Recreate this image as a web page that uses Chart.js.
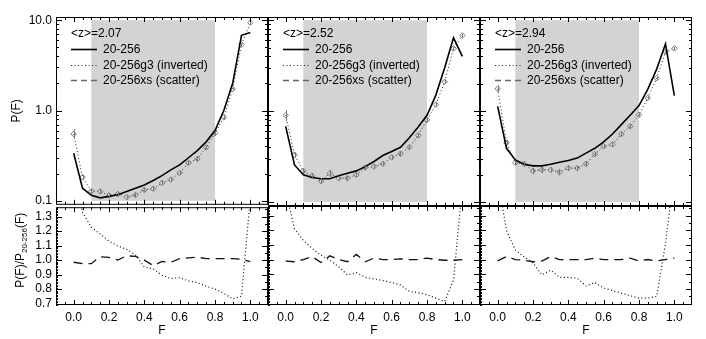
<!DOCTYPE html>
<html>
<head>
<meta charset="utf-8">
<script src="https://cdn.jsdelivr.net/npm/chart.js@4.4.1/dist/chart.umd.min.js"></script>
<style>
  body { margin: 0; background: #fff; }
  #wrap { position: relative; width: 706px; height: 339px; overflow: hidden; background: #fff; }
  canvas { position: absolute; }
</style>
</head>
<body>
<div id="wrap"></div>
<script>
// flux bins
const F = [0.00, 0.05, 0.10, 0.15, 0.20, 0.25, 0.30, 0.35, 0.40, 0.45, 0.50,
           0.55, 0.60, 0.65, 0.70, 0.75, 0.80, 0.85, 0.90, 0.95, 1.00];

const zLabels = ['2.07', '2.52', '2.94'];
const legendLabels = ['20-256', '20-256g3 (inverted)', '20-256xs (scatter)'];

// P(F), <z>=2.07
const base207 = [0.336, 0.138, 0.115, 0.108, 0.112, 0.117, 0.127, 0.138, 0.150, 0.168, 0.190,
                 0.220, 0.250, 0.300, 0.360, 0.450, 0.600, 1.00, 2.00, 6.80, 7.30];
const g3_207 = [0.55, 0.183, 0.128, 0.127, 0.115, 0.119, 0.110, 0.116, 0.132, 0.136, 0.158,
                0.172, 0.204, 0.263, 0.291, 0.390, 0.560, 0.84, 1.73, 5.40, 9.40];
const g3Err207 = [0.12, 0.07, 0.06, 0.06, 0.06, 0.05, 0.06, 0.05, 0.05, 0.05, 0.05,
                  0.05, 0.05, 0.05, 0.05, 0.05, 0.04, 0.04, 0.04, 0.04, 0.05];
const ratioG3_207 = [1.64, 1.33, 1.226, 1.18, 1.131, 1.097, 1.075, 1.036, 0.951, 0.94, 0.895,
                     0.872, 0.879, 0.856, 0.845, 0.82, 0.80, 0.771, 0.732, 0.75, 1.43];
const ratioXs_207 = [0.985, 0.975, 0.975, 1.023, 1.018, 1.0, 1.03, 1.025, 1.0, 0.962, 0.99,
                     0.985, 1.01, 1.015, 1.02, 1.01, 1.01, 1.01, 1.01, 1.005, 0.99];

// P(F), <z>=2.52
const base252 = [0.68, 0.256, 0.199, 0.186, 0.180, 0.180, 0.194, 0.207, 0.220, 0.245, 0.279,
                 0.325, 0.360, 0.400, 0.510, 0.670, 0.900, 1.50, 3.00, 6.40, 4.00];
const g3_252 = [0.90, 0.33, 0.22, 0.194, 0.170, 0.207, 0.183, 0.183, 0.199, 0.239, 0.246,
                0.263, 0.31, 0.34, 0.40, 0.54, 0.80, 1.18, 2.10, 4.90, 6.80];
const g3Err252 = [0.14, 0.07, 0.06, 0.06, 0.08, 0.10, 0.06, 0.06, 0.06, 0.06, 0.06,
                  0.05, 0.05, 0.05, 0.05, 0.05, 0.05, 0.04, 0.04, 0.04, 0.04];
const ratioG3_252 = [1.47, 1.21, 1.131, 1.075, 1.03, 0.996, 0.951, 0.895, 0.91, 0.879, 0.868,
                     0.856, 0.843, 0.827, 0.782, 0.775, 0.76, 0.737, 0.714, 0.86, 1.50];
const ratioXs_252 = [0.989, 0.985, 1.0, 1.02, 0.98, 1.025, 1.0, 0.985, 1.035, 0.985, 1.01,
                     1.0, 1.0, 1.005, 1.0, 1.0, 1.01, 1.0, 0.995, 0.995, 1.0];

// P(F), <z>=2.94
const base294 = [1.13, 0.39, 0.29, 0.26, 0.25, 0.25, 0.26, 0.274, 0.286, 0.304, 0.345,
                 0.39, 0.46, 0.56, 0.71, 0.90, 1.15, 1.75, 2.90, 5.50, 1.48];
const g3_294 = [1.76, 0.45, 0.27, 0.263, 0.22, 0.226, 0.226, 0.213, 0.236, 0.236, 0.263,
                0.336, 0.41, 0.43, 0.56, 0.68, 0.91, 1.40, 2.30, 4.50, 4.90];
const g3Err294 = [0.10, 0.07, 0.06, 0.06, 0.07, 0.07, 0.07, 0.07, 0.06, 0.06, 0.06,
                  0.05, 0.05, 0.05, 0.05, 0.05, 0.04, 0.04, 0.04, 0.04, 0.04];
const ratioG3_294 = [1.55, 1.199, 1.064, 1.018, 0.978, 0.895, 0.928, 0.879, 0.879, 0.872, 0.82,
                     0.843, 0.805, 0.789, 0.771, 0.753, 0.737, 0.737, 0.748, 1.109, 1.60];
const ratioXs_294 = [0.991, 1.02, 1.0, 0.995, 0.985, 0.99, 1.02, 1.0, 1.0, 1.0, 1.0,
                     1.01, 1.0, 1.0, 1.0, 1.01, 0.99, 1.0, 0.99, 1.0, 1.01];

const topTicks = [0.1, 1, 10];
const ratioTicks = [0.7, 0.8, 0.9, 1.0, 1.1, 1.2, 1.3];
const fTicks = [0.0, 0.2, 0.4, 0.6, 0.8, 1.0];
const shadeBand = [0.1, 0.8];
const shadeRange = [0.1, 10];

const panels = [
  { z: zLabels[0], base: base207, g3: g3_207, err: g3Err207, rG3: ratioG3_207, rXs: ratioXs_207 },
  { z: zLabels[1], base: base252, g3: g3_252, err: g3Err252, rG3: ratioG3_252, rXs: ratioXs_252 },
  { z: zLabels[2], base: base294, g3: g3_294, err: g3Err294, rG3: ratioG3_294, rXs: ratioXs_294 },
];

const FONT = '"Liberation Sans", Arial, Helvetica, sans-serif';
Chart.defaults.font.family = FONT;
Chart.defaults.font.size = 12;
Chart.defaults.color = '#000';

const colLeft = [56, 268, 480];
const colW = 212;
const margin = 56;
const pad = 10;           // spare room round each plot box so labels never squeeze it
const topY = 17, midY = 206, botY = 305;

const pts = (arr) => arr.map((v, i) => ({ x: F[i], y: v }));

// gray band behind the curves
const shade = {
  id: 'shade',
  beforeDatasetsDraw(chart, args, opts) {
    if (!opts.on) return;
    const { ctx } = chart;
    const x = chart.scales.x, y = chart.scales.y;
    const x0 = x.getPixelForValue(shadeBand[0]), x1 = x.getPixelForValue(shadeBand[1]);
    const y0 = y.getPixelForValue(shadeRange[1]), y1 = y.getPixelForValue(shadeRange[0]);
    ctx.save();
    ctx.fillStyle = '#d3d3d3';
    ctx.fillRect(x0, y0, x1 - x0, y1 - y0);
    ctx.restore();
  }
};

// vertical error bars on the diamonds
const errorBars = {
  id: 'errorBars',
  afterDatasetsDraw(chart) {
    const { ctx } = chart;
    const y = chart.scales.y;
    chart.data.datasets.forEach((ds, di) => {
      if (!ds.errFrac) return;
      const meta = chart.getDatasetMeta(di);
      ctx.save();
      ctx.strokeStyle = '#7a7a7a';
      ctx.lineWidth = 1;
      ctx.beginPath();
      meta.data.forEach((p, i) => {
        const v = ds.data[i].y, e = ds.errFrac[i];
        const px = Math.round(p.x) + 0.5;
        ctx.moveTo(px, y.getPixelForValue(v * (1 + e)));
        ctx.lineTo(px, y.getPixelForValue(v * (1 - e)));
      });
      ctx.stroke();
      ctx.restore();
    });
  }
};

// box frame with inward ticks on all four sides
const frameTicks = {
  id: 'frameTicks',
  afterDatasetsDraw(chart, args, opts) {
    if (!opts.kind) return;
    const { ctx, chartArea: a } = chart;
    const x = chart.scales.x, y = chart.scales.y;
    const L = a.left, R = a.right, T = a.top, B = a.bottom;
    ctx.save();
    ctx.strokeStyle = '#000';
    ctx.lineWidth = 1;
    ctx.strokeRect(L + 0.5, T + 0.5, R - L - 1, B - T - 1);
    ctx.beginPath();
    for (let k = -2; k <= 22; k++) {
      const px = Math.round(x.getPixelForValue(k * 0.05)) + 0.5;
      if (px < L + 1 || px > R - 1) continue;
      const len = (k >= 0 && k % 4 === 0) ? 5 : 3;
      ctx.moveTo(px, B); ctx.lineTo(px, B - len);
      ctx.moveTo(px, T); ctx.lineTo(px, T + len);
    }
    if (opts.kind === 'top') {
      for (let d = -2; d <= 1; d++) {
        for (let m = 1; m <= 9; m++) {
          const v = m * Math.pow(10, d);
          if (v < y.min || v > y.max) continue;
          const py = Math.round(y.getPixelForValue(v)) + 0.5;
          const len = m === 1 ? 6 : 3;
          ctx.moveTo(L, py); ctx.lineTo(L + len, py);
          ctx.moveTo(R, py); ctx.lineTo(R - len, py);
        }
      }
    } else {
      for (let k = 69; k <= 136; k++) {
        const py = Math.round(y.getPixelForValue(k / 100)) + 0.5;
        const major = k % 10 === 0;
        ctx.moveTo(L, py); ctx.lineTo(L + (major ? 6 : 2), py);
        if (k % 5 === 0) { ctx.moveTo(R, py); ctx.lineTo(R - (major ? 6 : 3), py); }
      }
    }
    ctx.stroke();
    ctx.restore();
  }
};

// legend block in the upper left of each top panel
const panelLegend = {
  id: 'panelLegend',
  afterDraw(chart, args, opts) {
    if (!opts.z) return;
    const { ctx, chartArea: a } = chart;
    const x0 = a.left + 15, y0 = a.top + 17;
    const rows = [
      { color: '#000', w: 1.6, dash: [] },
      { color: '#222', w: 1, dash: [1, 2.5] },
      { color: '#666', w: 1.6, dash: [6, 4] },
    ];
    ctx.save();
    ctx.font = '12px ' + FONT;
    ctx.fillStyle = '#000';
    ctx.textBaseline = 'middle';
    ctx.fillText('<z>=' + opts.z, x0, y0);
    rows.forEach((r, i) => {
      const yy = Math.round(y0 + 15.3 * (i + 1)) + 0.5;
      ctx.strokeStyle = r.color;
      ctx.lineWidth = r.w;
      ctx.setLineDash(r.dash);
      ctx.beginPath();
      ctx.moveTo(x0, yy); ctx.lineTo(x0 + 26, yy);
      ctx.stroke();
      ctx.fillText(legendLabels[i], x0 + 32, yy);
    });
    ctx.restore();
  }
};

// rotated ratio title with subscript
const ratioTitle = {
  id: 'ratioTitle',
  afterDraw(chart, args, opts) {
    if (!opts.on) return;
    const { ctx, chartArea: a } = chart;
    ctx.save();
    ctx.translate(21, a.top + 43);
    ctx.rotate(-Math.PI / 2);
    ctx.fillStyle = '#000';
    ctx.textBaseline = 'middle';
    const big = '12px ' + FONT, small = '8px ' + FONT;
    ctx.font = big; const w1 = ctx.measureText('P(F)/P').width; const w3 = ctx.measureText('(F)').width;
    ctx.font = small; const w2 = ctx.measureText('20-256').width;
    let cx = -(w1 + w2 + w3) / 2;
    ctx.font = big; ctx.fillText('P(F)/P', cx, 0); cx += w1;
    ctx.font = small; ctx.fillText('20-256', cx, 3.5); cx += w2;
    ctx.font = big; ctx.fillText('(F)', cx, 0);
    ctx.restore();
  }
};

Chart.register(shade, errorBars, frameTicks, panelLegend, ratioTitle);

function makeCanvas(left, top, w, h) {
  const c = document.createElement('canvas');
  c.width = w; c.height = h;
  c.style.left = left + 'px'; c.style.top = top + 'px';
  c.style.width = w + 'px'; c.style.height = h + 'px';
  document.getElementById('wrap').appendChild(c);
  return c;
}

panels.forEach((p, i) => {
  const first = i === 0;

  // upper panel: P(F) on log axis
  new Chart(makeCanvas(colLeft[i] - margin, 0, margin + colW + pad, midY + pad), {
    type: 'line',
    data: {
      datasets: [
        { data: pts(p.base), borderColor: '#000', borderWidth: 1.6, pointRadius: 0, tension: 0, clip: 0 },
        { data: pts(p.g3), errFrac: p.err, borderColor: '#222', borderWidth: 1, borderDash: [1, 2.5],
          pointStyle: 'rectRot', pointRadius: 2.8, pointBorderColor: '#7a7a7a',
          pointBackgroundColor: 'rgba(0,0,0,0)', pointBorderWidth: 1, tension: 0, clip: 0 },
      ]
    },
    options: {
      responsive: false, animation: false, events: [],
      layout: { padding: { left: 0, right: pad, top: topY, bottom: pad } },
      plugins: {
        legend: { display: false }, tooltip: { enabled: false },
        shade: { on: true }, frameTicks: { kind: 'top' }, panelLegend: { z: p.z }, ratioTitle: { on: false },
      },
      scales: {
        x: { type: 'linear', min: -0.1, max: 1.1, display: false },
        y: {
          type: 'logarithmic', min: 0.0904, max: 10.85,
          grid: { display: false, drawTicks: false }, border: { display: false },
          afterBuildTicks: (s) => { s.ticks = topTicks.map(v => ({ value: v })); },
          afterFit: (s) => { s.width = margin; },
          ticks: { display: first, autoSkip: false, padding: 4, callback: (v) => Number(v).toFixed(1) },
          title: { display: first, text: 'P(F)', padding: { top: 9, bottom: 0 } },
        }
      }
    }
  });

  // lower panel: ratio to 20-256
  new Chart(makeCanvas(colLeft[i] - margin, midY - pad, margin + colW + pad, 339 - midY + pad), {
    type: 'line',
    data: {
      datasets: [
        { data: pts(p.rXs), borderColor: '#111', borderWidth: 1.3, borderDash: [9, 6], pointRadius: 0, tension: 0, clip: 0 },
        { data: pts(p.rG3), borderColor: '#111', borderWidth: 1.2, borderDash: [1, 2.5], pointRadius: 0, tension: 0, clip: 0 },
      ]
    },
    options: {
      responsive: false, animation: false, events: [],
      layout: { padding: { left: 0, right: pad, top: pad, bottom: 0 } },
      plugins: {
        legend: { display: false }, tooltip: { enabled: false },
        shade: { on: false }, frameTicks: { kind: 'bottom' }, panelLegend: { z: null }, ratioTitle: { on: first },
      },
      scales: {
        x: {
          type: 'linear', min: -0.1, max: 1.1,
          grid: { display: false, drawTicks: false }, border: { display: false },
          afterBuildTicks: (s) => { s.ticks = fTicks.map(v => ({ value: v })); },
          afterFit: (s) => { s.height = 339 - botY; },
          ticks: { padding: 5, maxRotation: 0, autoSkip: false, callback: (v) => Number(v).toFixed(1) },
          title: { display: true, text: 'F', padding: { top: 0, bottom: 1 } },
        },
        y: {
          type: 'linear', min: 0.69, max: 1.365,
          grid: { display: false, drawTicks: false }, border: { display: false },
          afterBuildTicks: (s) => { s.ticks = ratioTicks.map(v => ({ value: v })); },
          afterFit: (s) => { s.width = margin; },
          ticks: { display: first, autoSkip: false, padding: 4, callback: (v) => Number(v).toFixed(1) },
        }
      }
    }
  });
});
</script>
</body>
</html>
